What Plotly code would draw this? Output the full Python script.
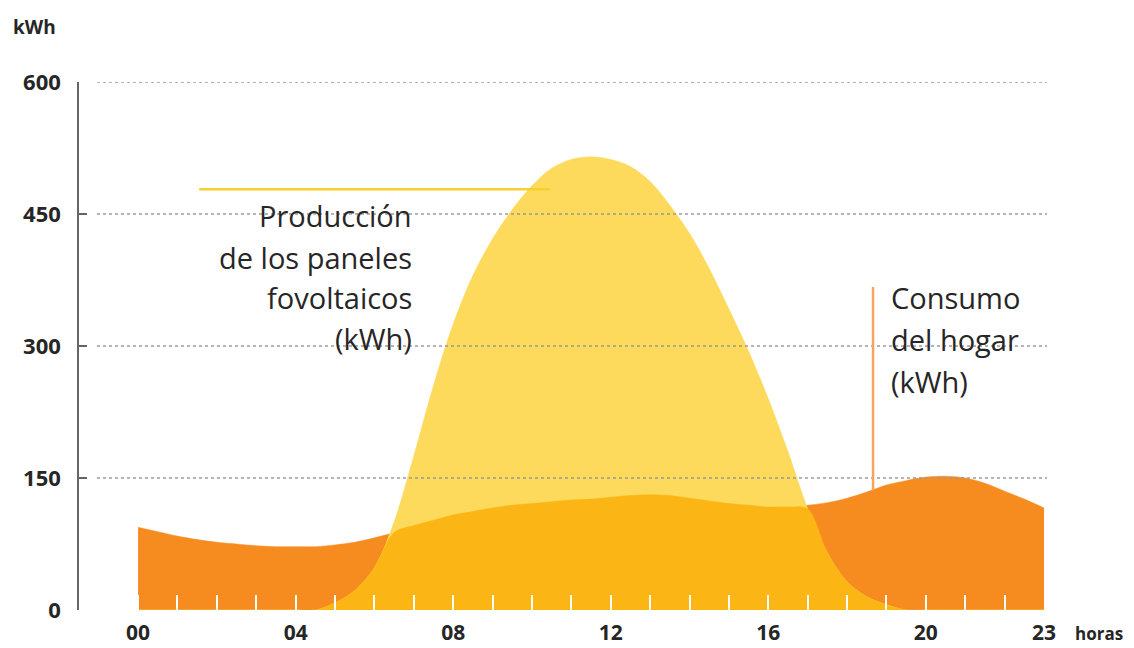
import numpy as np
import plotly.graph_objects as go

# ---------------- data ----------------
hours = [i * 0.5 for i in range(47)]  # 0 .. 23 in half hours

consumo = [94, 89, 84, 80, 77, 75, 73, 72, 72, 72,
           74, 77, 82, 88, 96, 102, 108, 112, 116, 119,
           121, 123, 125, 126, 128, 130, 131, 130, 127, 124,
           121, 119, 117, 117, 119, 122, 127, 134, 142, 147,
           151, 152, 150, 144, 135, 126, 116]

produccion = [0, 0, 0, 0, 0, 0, 0, 0, 0, 0,
              8, 22, 48, 100, 175, 255, 325, 380, 422, 455,
              482, 502, 512, 515, 512, 504, 487, 460, 428, 388,
              342, 294, 240, 180, 115, 65, 32, 15, 6, 0,
              0, 0, 0, 0, 0, 0, 0]

tick_hours = [0, 4, 8, 12, 16, 20, 23]
tick_labels = ["00", "04", "08", "12", "16", "20", "23"]
y_ticks = [0, 150, 300, 450, 600]
grid_levels = [150, 300, 450, 600]

prod_label = ["Producción", "de los paneles", "fovoltaicos", "(kWh)"]
cons_label = ["Consumo", "del hogar", "(kWh)"]

# ---------------- styling ----------------
ORANGE = "#F68B1F"
YELLOW = "#FDD95C"
GOLD = "#FBB515"
TEXT = "#262626"
FONT = "Open Sans"

# plot area in pixels
L, R, T, B = 79, 1044, 82, 610
W, H = R - L, B - T


def px_x(px):
    return (px - L) / W


def px_y(py):
    return (B - py) / H


overlap = np.minimum(np.array(produccion), np.array(consumo))

fig = go.Figure()
for yy, col in [(consumo, ORANGE), (produccion, YELLOW), (overlap.tolist(), GOLD)]:
    fig.add_trace(go.Scatter(x=hours, y=yy, mode="lines", fill="tozeroy",
                             line=dict(color=col, width=0.5, shape="spline", smoothing=0.9),
                             fillcolor=col, hoverinfo="skip", showlegend=False))

# dotted grid lines drawn above the areas
for g in grid_levels:
    fig.add_shape(type="line", xref="paper", yref="y", x0=px_x(97), x1=px_x(1047), y0=g, y1=g,
                  line=dict(color="#9a9a9a", width=1.5, dash="dot"), layer="above")

# leader lines
fig.add_shape(type="line", xref="x", yref="y", x0=1.55, x1=10.45, y0=478, y1=478,
              line=dict(color="#F6D02E", width=2.5), layer="above")
fig.add_shape(type="line", xref="x", yref="y", x0=18.66, x1=18.66, y0=136, y1=367,
              line=dict(color="#F5A55E", width=2.5), layer="above")

# labels
prod_py = [215, 257, 297, 338]
for txt, py in zip(prod_label, prod_py):
    fig.add_annotation(x=px_x(414), y=px_y(py), xref="paper", yref="paper", text=txt,
                       showarrow=False, xanchor="right", yanchor="middle",
                       font=dict(family=FONT, size=29, color=TEXT))
cons_py = [297, 339, 381]
for txt, py in zip(cons_label, cons_py):
    fig.add_annotation(x=px_x(889), y=px_y(py), xref="paper", yref="paper", text=txt,
                       showarrow=False, xanchor="left", yanchor="middle",
                       font=dict(family=FONT, size=29, color=TEXT))

fig.add_annotation(x=px_x(11), y=px_y(27), xref="paper", yref="paper", text="kWh",
                   showarrow=False, xanchor="left", yanchor="middle",
                   font=dict(family=FONT, size=19, color=TEXT, weight=700))
fig.add_annotation(x=px_x(1073), y=px_y(633), xref="paper", yref="paper", text="horas",
                   showarrow=False, xanchor="left", yanchor="middle",
                   font=dict(family=FONT, size=17, color=TEXT, weight=700))

fig.update_layout(
    width=1134, height=648,
    margin=dict(l=L, r=1134 - R, t=T, b=648 - B, autoexpand=False),
    plot_bgcolor="white", paper_bgcolor="white",
    xaxis=dict(range=[-1.5, 23], showgrid=False, zeroline=False, showline=False,
               automargin=False,
               tickmode="array", tickvals=tick_hours, ticktext=tick_labels,
               ticks="inside", ticklen=15, tickwidth=2, tickcolor="white",
               minor=dict(dtick=1, tick0=0, ticks="inside", ticklen=15, tickwidth=2,
                          tickcolor="white", showgrid=False),
               tickfont=dict(family=FONT, size=21, color=TEXT, weight=700),
               ticklabelstandoff=8, layer="above traces", fixedrange=True),
    yaxis=dict(range=[0, 600], showgrid=False, zeroline=False, showline=True,
               automargin=False,
               linecolor="#666666", linewidth=1.5,
               tickmode="array", tickvals=y_ticks,
               ticks="inside", ticklen=8, tickwidth=1.5, tickcolor="#666666",
               tickfont=dict(family=FONT, size=22, color=TEXT, weight=700),
               ticklabelstandoff=12, fixedrange=True),
)

fig.write_html("out.html", config={"displayModeBar": False},
               post_script="document.body.style.margin='0';document.body.style.overflow='hidden';")
